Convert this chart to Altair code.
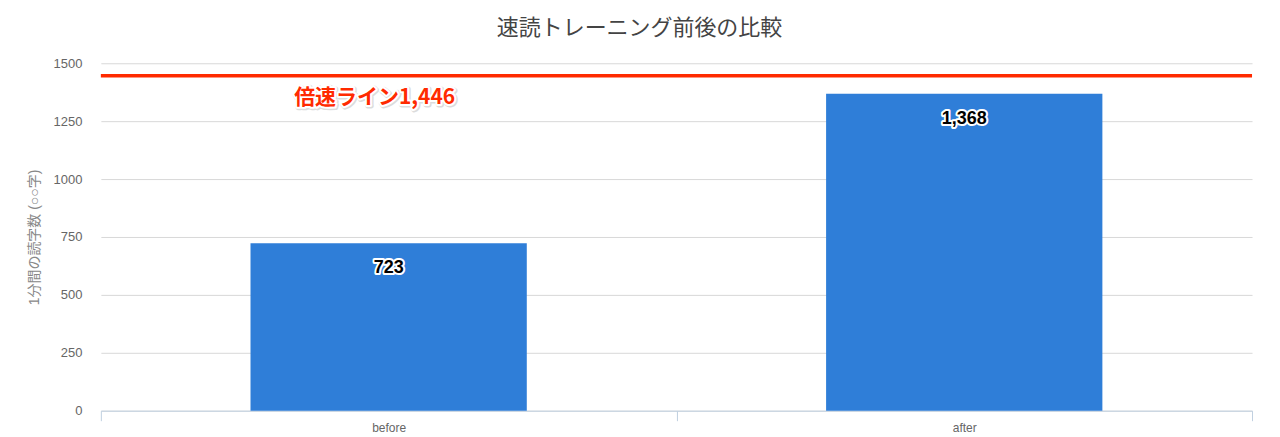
import altair as alt
import pandas as pd

categories = ["before", "after"]
values = [723, 1368]
bar_labels = ["723", "1,368"]
line_value = 1446
line_label = "倍速ライン1,446"
y_ticks = [0, 250, 500, 750, 1000, 1250, 1500]

bars_df = pd.DataFrame({"cat": categories, "val": values, "label": bar_labels})
line_df = pd.DataFrame({"cat": ["before"], "val": [line_value], "label": [line_label]})

FONT = "Liberation Sans, Helvetica, Arial, Noto Sans CJK JP, sans-serif"
JP = "Noto Sans CJK JP, Liberation Sans, sans-serif"
YT = "Liberation Sans, DejaVu Sans, Noto Sans CJK JP, sans-serif"
RED = "#FF2A00"
BLUE = "#2F7ED8"

x = alt.X(
    "cat:N",
    sort=categories,
    scale=alt.Scale(domain=categories, paddingInner=0, paddingOuter=0),
    axis=alt.Axis(
        title=None, labelAngle=0, tickBand="extent", domainColor="#C0D0E0",
        tickColor="#C0D0E0", tickSize=10, labelColor="#666666", labelFontSize=12,
        labelPadding=2, labelFont=FONT, grid=False,
    ),
)
y = alt.Y(
    "val:Q",
    scale=alt.Scale(domain=[0, 1500], nice=False),
    axis=alt.Axis(
        values=y_ticks, format="d", title="1分間の読字数 (○○字)", grid=True,
        gridColor="#D8D8D8", domain=False, ticks=False, labelPadding=19,
        labelColor="#666666", labelFontSize=13, labelFont=FONT, titleFont=YT,
        titleFontSize=14, titleColor="#888888", titleFontWeight="normal",
        titlePadding=12,
    ),
)

base = alt.Chart(bars_df)
bars = base.mark_bar(color=BLUE, width=alt.RelativeBandSize(0.48)).encode(x=x, y=y)
lab_halo = base.mark_text(
    fontSize=18, fontWeight="bold", font=FONT, stroke="white", strokeWidth=4,
    strokeJoin="round", fill="black", baseline="middle", dy=25,
).encode(x=x, y=y, text="label:N")
lab = base.mark_text(
    fontSize=18, fontWeight="bold", font=FONT, fill="black", baseline="middle", dy=25,
).encode(x=x, y=y, text="label:N")

lbase = alt.Chart(line_df)
rule = lbase.mark_rule(color=RED, strokeWidth=3.5).encode(y=y)
red_shadow = lbase.mark_text(
    fontSize=21, fontWeight="bold", font=JP, stroke="#bbbbbb", strokeWidth=5,
    strokeJoin="round", fill="#bbbbbb", opacity=0.5, baseline="middle", dx=-13, dy=23,
).encode(x=x, y=y, text="label:N")
red_halo = lbase.mark_text(
    fontSize=21, fontWeight="bold", font=JP, stroke="white", strokeWidth=4,
    strokeJoin="round", fill="white", baseline="middle", dx=-14, dy=22,
).encode(x=x, y=y, text="label:N")
red_text = lbase.mark_text(
    fontSize=21, fontWeight="bold", font=JP, fill=RED, baseline="middle", dx=-14, dy=22,
).encode(x=x, y=y, text="label:N")

chart = alt.layer(bars, lab_halo, lab, rule, red_shadow, red_halo, red_text).properties(
    width=1153,
    height=348,
    autosize=alt.AutoSizeParams(type="none"),
    padding={"left": 93, "top": 55, "right": 20, "bottom": 26},
    title=alt.TitleParams(
        "速読トレーニング前後の比較", fontSize=22, font=JP, color="#444444",
        fontWeight="normal", anchor="middle", dx=-37, offset=17,
    ),
).configure_view(stroke=None)

chart.save("out.html", embed_options={"renderer": "svg", "actions": False})
